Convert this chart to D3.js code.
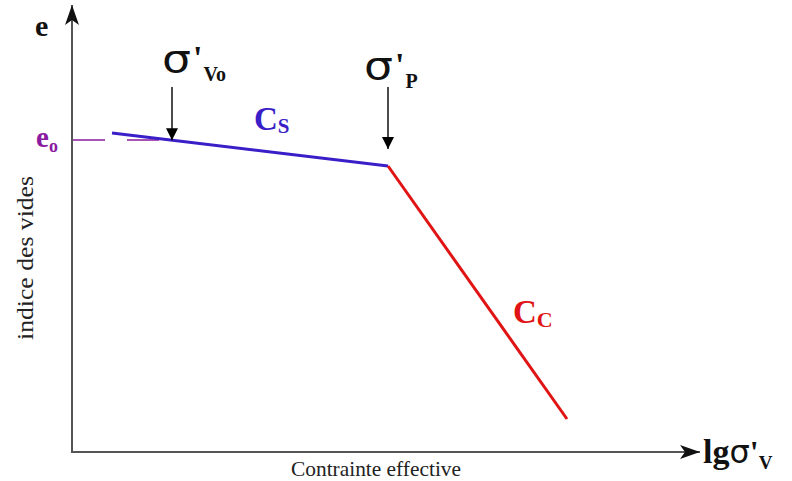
<!DOCTYPE html>
<html>
<head>
<meta charset="utf-8">
<script src="https://cdn.jsdelivr.net/npm/d3@7"></script>
<style>
  html, body { margin: 0; padding: 0; background: #fff; }
  svg { display: block; }
  text { font-family: "Liberation Serif", "DejaVu Serif", serif; }
</style>
</head>
<body>
<svg id="chart" width="792" height="481"></svg>
<script>
// Oedometer curve: void ratio e against log of effective vertical stress
const swelling = [ { lg: 0.40, e: 3.19 }, { lg: 3.16, e: 2.86 } ];      // recompression branch (Cs)
const virgin   = [ { lg: 3.16, e: 2.86 }, { lg: 4.95, e: 0.33 } ];      // normal compression branch (Cc)
const sigmaV0 = 1.00;   // in-situ effective stress (log units)
const sigmaP  = 3.16;   // preconsolidation stress (log units)
const e0 = 3.12;        // initial void ratio

const svg = d3.select("#chart");
const x = d3.scaleLinear().domain([0, 6.28]).range([72, 700]);
const y = d3.scaleLinear().domain([0, 4.44]).range([452, 8]);

// Arrowhead markers
const defs = svg.append("defs");
defs.append("marker").attr("id", "axisHead")
  .attr("viewBox", "0 0 20 16").attr("refX", 20).attr("refY", 8)
  .attr("markerUnits", "userSpaceOnUse")
  .attr("markerWidth", 20).attr("markerHeight", 16).attr("orient", "auto")
  .append("path").attr("d", "M0,1 L20,8 L0,15 L5,8 Z").attr("fill", "#111");
defs.append("marker").attr("id", "ptrHead")
  .attr("viewBox", "0 0 12 12").attr("refX", 12).attr("refY", 6)
  .attr("markerUnits", "userSpaceOnUse")
  .attr("markerWidth", 12).attr("markerHeight", 12).attr("orient", "auto")
  .append("path").attr("d", "M0,0 L12,6 L0,12 Z").attr("fill", "#000");

// Axes
svg.append("line")
  .attr("x1", x(0)).attr("y1", y(0)).attr("x2", x(0)).attr("y2", y(4.44) - 3)
  .attr("stroke", "#555").attr("stroke-width", 2).attr("marker-end", "url(#axisHead)");
svg.append("line")
  .attr("x1", x(0) - 1).attr("y1", y(0)).attr("x2", x(6.28)).attr("y2", y(0))
  .attr("stroke", "#555").attr("stroke-width", 2).attr("marker-end", "url(#axisHead)");

// e0 reference dashes
svg.append("line")
  .attr("x1", x(0) + 1).attr("x2", x(0.98)).attr("y1", y(e0)).attr("y2", y(e0))
  .attr("stroke", "#8a1aa0").attr("stroke-width", 1.3)
  .attr("stroke-dasharray", "32,22");

// Curve branches
const line = d3.line().x(d => x(d.lg)).y(d => y(d.e));
svg.append("path").datum(swelling).attr("d", line)
  .attr("fill", "none").attr("stroke", "#3a1ec8").attr("stroke-width", 3);
svg.append("path").datum(virgin).attr("d", line)
  .attr("fill", "none").attr("stroke", "#e01414").attr("stroke-width", 3);

// Pointer arrows to sigma'v0 and sigma'p
function eAt(lg) {
  const [a, b] = swelling;
  return a.e + (b.e - a.e) * (lg - a.lg) / (b.lg - a.lg);
}
svg.append("line")
  .attr("x1", x(sigmaV0)).attr("x2", x(sigmaV0)).attr("y1", 87).attr("y2", y(eAt(sigmaV0)))
  .attr("stroke", "#000").attr("stroke-width", 1.4).attr("marker-end", "url(#ptrHead)");
svg.append("line")
  .attr("x1", x(sigmaP)).attr("x2", x(sigmaP)).attr("y1", 87).attr("y2", y(eAt(sigmaP)) - 17)
  .attr("stroke", "#000").attr("stroke-width", 1.4).attr("marker-end", "url(#ptrHead)");

// Labels
function sigmaLabel(px, py, sub) {
  const t = svg.append("text").attr("x", px).attr("y", py).attr("fill", "#111");
  t.append("tspan").text("σ").attr("font-family", "DejaVu Sans, sans-serif")
    .attr("font-size", 38).attr("textLength", 29).attr("lengthAdjust", "spacingAndGlyphs");
  t.append("tspan").text("'").attr("font-weight", "bold").attr("font-size", 34).attr("dy", -3).attr("dx", 2);
  t.append("tspan").text(sub).attr("font-weight", "bold").attr("font-size", 20).attr("dy", 12).attr("dx", 1);
}
sigmaLabel(x(sigmaV0) - 10, 72, "Vo");
sigmaLabel(x(sigmaP) - 24, 79, "P");

svg.append("text").attr("x", 35).attr("y", 36).attr("font-weight", "bold")
  .attr("font-size", 30).attr("fill", "#111").text("e");

const e0t = svg.append("text").attr("x", 36).attr("y", y(e0) + 7)
  .attr("font-weight", "bold").attr("fill", "#8a1aa0");
e0t.append("tspan").attr("font-size", 29).text("e");
e0t.append("tspan").attr("font-size", 18).attr("dy", 5).text("o");

const cs = svg.append("text").attr("x", 254).attr("y", 130)
  .attr("font-weight", "bold").attr("fill", "#3a1ec8");
cs.append("tspan").attr("font-size", 33).text("C");
cs.append("tspan").attr("font-size", 21).attr("dy", 3).text("S");

const cc = svg.append("text").attr("x", 513).attr("y", 323)
  .attr("font-weight", "bold").attr("fill", "#e01414");
cc.append("tspan").attr("font-size", 33).text("C");
cc.append("tspan").attr("font-size", 22).attr("dy", 4).text("C");

const xl = svg.append("text").attr("x", 703).attr("y", 463)
  .attr("font-weight", "bold").attr("fill", "#111");
xl.append("tspan").attr("font-size", 34).text("lg");
xl.append("tspan").attr("font-size", 32).attr("font-family", "DejaVu Sans, sans-serif").attr("font-weight", "normal").text("σ");
xl.append("tspan").attr("font-size", 32).text("'");
xl.append("tspan").attr("font-size", 19).attr("dy", 6).text("V");

svg.append("text").attr("transform", "translate(33,258) rotate(-90)")
  .attr("text-anchor", "middle").attr("font-size", 24).attr("fill", "#222")
  .attr("textLength", 164).attr("lengthAdjust", "spacingAndGlyphs")
  .text("indice des vides");

svg.append("text").attr("x", 376).attr("y", 476)
  .attr("text-anchor", "middle").attr("font-size", 22).attr("fill", "#222")
  .attr("textLength", 170).attr("lengthAdjust", "spacingAndGlyphs")
  .text("Contrainte effective");
</script>
</body>
</html>
